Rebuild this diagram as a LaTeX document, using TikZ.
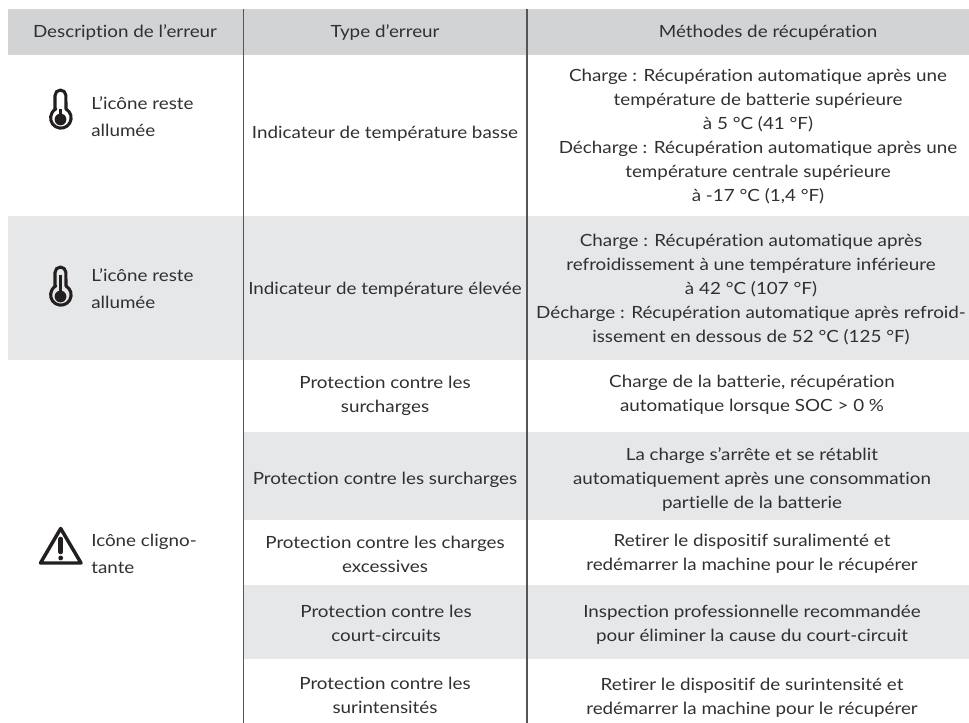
\documentclass[tikz,border=0pt]{standalone}
\usepackage{fontspec}
\setmainfont[FakeStretch=1.12,Ligatures=CommonOff]{Lato}
\definecolor{hdr}{HTML}{D1D3D4}
\definecolor{band}{HTML}{E6E7E8}
\definecolor{ink}{HTML}{303032}
\definecolor{rule}{HTML}{555555}
\definecolor{icon}{HTML}{231F20}
\tikzset{x=0.75pt,y=-0.75pt,
  cell/.style={align=center,text=ink,inner sep=0pt,font=\fontsize{12.6pt}{18pt}\selectfont},
  lefty/.style={cell,align=left,anchor=west},
  colrule/.style={draw=rule,line width=1pt},
  iconline/.style={draw=icon,line width=2.3pt,line cap=round,line join=round}}
\newcommand{\thermo}[3]{%
  \draw[iconline,fill=none] (#1-5.5,#2+19) -- (#1-5.5,#2+5.5) arc[start angle=180,end angle=0,radius=4.1pt] -- (#1+5.5,#2+19)
     arc[start angle=60,end angle=-240,radius=7.7pt] -- cycle;
  \fill[icon] (#1,#2+29.5) circle[radius=4.4pt];
  \draw[icon,line width=2.6pt] (#1,#2+#3) -- (#1,#2+29);
}
\begin{document}
\begin{tikzpicture}
\useasboundingbox (0,0) rectangle (969,723);
\fill[hdr] (8,9) rectangle (969,55);
\fill[band] (8,216) rectangle (969,359.5);
\fill[band] (244,432) rectangle (969,520);
\fill[band] (244,585) rectangle (969,659);
\draw[colrule] (243.5,9) -- (243.5,723);
\draw[colrule] (527,9) -- (527,723);

\node[cell] (h1) at (125,33) {Description de l’erreur};
\node[cell] (h2) at (385,33) {Type d’erreur};
\node[cell] (h3) at (768,33) {Méthodes de récupération};

\node[lefty] (a1) at (91,116.5) {L’icône reste\\[2.25pt]allumée};
\node[lefty] (a2) at (91,288.5) {L’icône reste\\[2.25pt]allumée};
\node[lefty] (a3) at (91,553.5) {Icône cligno-\\[2.25pt]tante};

\node[cell] (b1) at (385,134) {Indicateur de température basse};
\node[cell] (b2) at (385,290) {Indicateur de température élevée};
\node[cell] (b3) at (385,396) {Protection contre les\\surcharges};
\node[cell] (b4) at (385,480) {Protection contre les surcharges};
\node[cell] (b5) at (385,554) {Protection contre les charges\\excessives};
\node[cell] (b6) at (386,623) {Protection contre les\\court-circuits};
\node[cell] (b7) at (385,695) {Protection contre les\\surintensités};

\node[cell] (c1) at (758,137) {Charge : Récupération automatique après une\\température de batterie supérieure\\à 5 °C (41 °F)\\Décharge : Récupération automatique après une\\température centrale supérieure\\à -17 °C (1,4 °F)};
\node[cell] (c2) at (751,290) {Charge : Récupération automatique après\\refroidissement à une température inférieure\\à 42 °C (107 °F)\\Décharge : Récupération automatique après refroid-\\issement en dessous de 52 °C (125 °F)};
\node[cell] (c3) at (752,395) {Charge de la batterie, récupération\\automatique lorsque SOC > 0 \%};
\node[cell] (c4) at (752,480) {La charge s’arrête et se rétablit\\automatiquement après une consommation\\partielle de la batterie};
\node[cell] (c5) at (752,554) {Retirer le dispositif suralimenté et\\redémarrer la machine pour le récupérer};
\node[cell] (c6) at (752,624.5) {Inspection professionnelle recommandée\\pour éliminer la cause du court-circuit};
\node[cell] (c7) at (752,697.5) {Retirer le dispositif de surintensité et\\redémarrer la machine pour le récupérer};

\thermo{60.5}{90}{19}
\thermo{60.5}{267}{8}

\draw[iconline,line width=2.6pt] (60.7,528.5) -- (81,563) -- (40.5,563) -- cycle;
\draw[icon,line width=3.4pt,line cap=round] (60.7,539) -- (60.7,552);
\fill[icon] (60.7,558) circle[radius=1.8pt];
\end{tikzpicture}
\end{document}
